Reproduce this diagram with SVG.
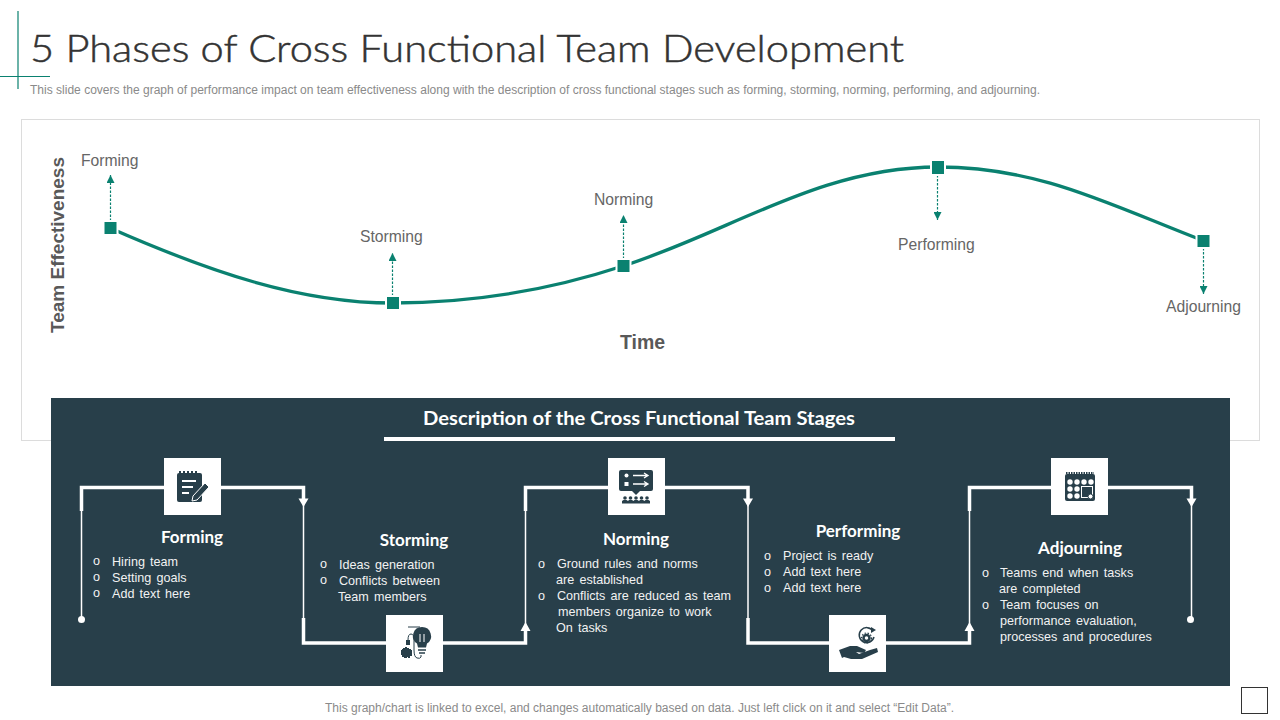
<svg xmlns="http://www.w3.org/2000/svg" width="1280" height="720" viewBox="0 0 1280 720">
<style>
text{font-family:"Liberation Sans",Arial,sans-serif}
.lab{font-size:15.700px;fill:#666}
.axis{font-weight:700;fill:#595959}
.head{font-family:Lato,"Liberation Sans",sans-serif;font-weight:700;fill:#fff;font-size:17px;text-anchor:middle}
.body{font-size:12.600px;fill:#f2f2f2;word-spacing:1.700px}
.thick{fill:none;stroke:#fff;stroke-width:3.500}
.thin{fill:none;stroke:#fff;stroke-width:1.500}
.dash{stroke:#0a8170;stroke-width:1.200;stroke-dasharray:2.500 1.500;fill:none}
.ic{fill:#283f4a}
.icl{fill:none;stroke:#283f4a}
.pt{fill:#0a8170;stroke:#fff;stroke-width:2}
</style>
<defs>
<marker id="ah" viewBox="0 0 8 8" refX="8" refY="4" markerWidth="8" markerHeight="8" markerUnits="userSpaceOnUse" orient="auto"><path d="M0 0L8 4L0 8Z" fill="#0a8170"/></marker>
</defs>
<rect width="1280" height="720" fill="#fff"/>
<g id="title">
<path d="M18 11V89M0 76.500H50" stroke="#0a8170" stroke-width="1.200" fill="none"/>
<text x="30" y="62" font-size="38" fill="#333" stroke="#333" stroke-width="0.500" style="font-family:Lato,'Open Sans',sans-serif;font-weight:300" textLength="874" lengthAdjust="spacingAndGlyphs">5 Phases of Cross Functional Team Development</text>
<text x="30" y="94" font-size="12" fill="#8a8a8a" textLength="1010" lengthAdjust="spacingAndGlyphs">This slide covers the graph of performance impact on team effectiveness along with the description of cross functional stages such as forming, storming, norming, performing, and adjourning.</text>
</g>
<rect id="chart-card" x="21.500" y="119.500" width="1238" height="321" fill="#fff" stroke="#dcdcdc" stroke-width="1"/>
<g id="chart-axes">
<text class="axis" font-size="18.500" transform="translate(64,333) rotate(-90)" textLength="176" lengthAdjust="spacingAndGlyphs">Team Effectiveness</text>
<text class="axis" x="620" y="349" font-size="19.500">Time</text>
</g>
<g id="chart-connectors">
<path d="M110 228C210 272 300 303 393 303C470 303 550 290 623 266C730 232 820 167 938 167C1040 167 1110 205 1204 241" fill="none" stroke="#0a8170" stroke-width="3.300"/>
<path class="dash" d="M110.500 221V175" marker-end="url(#ah)"/>
<path class="dash" d="M392.500 296V253" marker-end="url(#ah)"/>
<path class="dash" d="M623.500 259V215" marker-end="url(#ah)"/>
<path class="dash" d="M937.500 175V220" marker-end="url(#ah)"/>
<path class="dash" d="M1203.500 248V294" marker-end="url(#ah)"/>
</g>
<g id="point-forming"><rect class="pt" x="103.500" y="221" width="14" height="14"/><text class="lab" x="81" y="166">Forming</text></g>
<g id="point-storming"><rect class="pt" x="386" y="296" width="14" height="14"/><text class="lab" x="360" y="242">Storming</text></g>
<g id="point-norming"><rect class="pt" x="616.500" y="259" width="14" height="14"/><text class="lab" x="594" y="205">Norming</text></g>
<g id="point-performing"><rect class="pt" x="931" y="160" width="14" height="15"/><text class="lab" x="898" y="250">Performing</text></g>
<g id="point-adjourning"><rect class="pt" x="1196.500" y="234" width="14" height="14"/><text class="lab" x="1166" y="312">Adjourning</text></g>

<g id="panel">
<rect x="51" y="398" width="1179" height="288" fill="#283f4a"/>
<text x="639" y="425" font-size="18.500" style="font-family:Lato,'Liberation Sans',sans-serif;font-weight:700" fill="#fff" text-anchor="middle" textLength="432" lengthAdjust="spacingAndGlyphs">Description of the Cross Functional Team Stages</text>
<rect x="384" y="437" width="511" height="4" fill="#fff"/>
</g>
<g id="connectors">
<path class="thin" d="M81.500 619V510"/>
<path class="thick" d="M81.500 511V487.500H303.500V500"/>
<path class="thin" d="M303.500 500V618"/>
<path class="thick" d="M303.500 618V643H525.500V630"/>
<path class="thin" d="M525.500 630V510"/>
<path class="thick" d="M525.500 511V487.500H748V500"/>
<path class="thin" d="M748 500V618"/>
<path class="thick" d="M748 618V643H969.500V630"/>
<path class="thin" d="M969.500 630V510"/>
<path class="thick" d="M969.500 511V487.500H1191.500V500"/>
<path class="thin" d="M1191.500 500V619"/>
<circle cx="81.500" cy="619.500" r="3.500" fill="#fff"/>
<circle cx="1190.500" cy="619.500" r="3.500" fill="#fff"/>
<path d="M298.500 498.500H308.500L303.500 507Z M743 498.500H753L748 507Z M1186.500 498.500H1196.500L1191.500 507Z M520.500 631H530.500L525.500 622Z M964.500 631H974.500L969.500 622Z" fill="#fff"/>
</g>

<g id="node-forming">
<rect x="164" y="458" width="57" height="57" fill="#fff"/>
<rect class="ic" x="177" y="473" width="25" height="29" rx="2"/>
<path d="M180 471v4M184 471v4M188 471v4M192 471v4M196 471v4" stroke="#283f4a" stroke-width="2"/>
<path d="M182 481H196M182 487H193M182 493H189" stroke="#fff" stroke-width="2" fill="none"/>
<path d="M193 496L205 483L209 487L197 500L192 501Z" fill="#283f4a" stroke="#fff" stroke-width="1"/>
<text class="head" x="192" y="543">Forming</text>
<text class="body" x="93" y="565">o</text><text class="body" x="112" y="566">Hiring team</text>
<text class="body" x="93" y="581">o</text><text class="body" x="112" y="582">Setting goals</text>
<text class="body" x="93" y="597">o</text><text class="body" x="112" y="598">Add text here</text>
</g>
<g id="node-storming">
<rect x="386" y="615" width="57" height="57" fill="#fff"/>
<path class="ic" d="M422 627a9 9 0 0 1 5 16.500l-1 4h-8l-1-4a9 9 0 0 1 5-16.500Z"/>
<path d="M420 634v8M424 634v8" stroke="#fff" stroke-width="1"/>
<path d="M418 650H426M419 653H425" stroke="#283f4a" stroke-width="1.500"/>
<path class="icl" d="M421 655V657Q420 659 417 658Q414 657 414 650V640Q414 634 411 634Q408 634 408 640" stroke-width="1"/>
<rect class="ic" x="406" y="640" width="4" height="5"/>
<path d="M408 627H420" stroke="#283f4a" stroke-width="1"/>
<path class="ic" d="M403 648h2v-1h2v1h2v1h2v1h1v6h-2v2h-2v-1h-1v1h-3v-1h-2v-2h-1v-5h1v-1h1Z"/>
<text class="head" x="414" y="546">Storming</text>
<text class="body" x="320" y="568">o</text><text class="body" x="339" y="569">Ideas generation</text>
<text class="body" x="320" y="584">o</text><text class="body" x="339" y="585">Conflicts between</text>
<text class="body" x="338" y="601">Team members</text>
</g>
<g id="node-norming">
<rect x="608" y="458" width="57" height="57" fill="#fff"/>
<rect class="ic" x="619" y="470" width="34" height="21" rx="2"/>
<path class="ic" d="M632 491H640L636 495Z"/>
<circle cx="626.500" cy="475.500" r="2" fill="#fff"/><rect x="624.500" y="482" width="4" height="4" fill="#fff"/>
<path d="M633 475.500H647M633 484H647M644 473L648 475.500L644 478M644 481.500L648 484L644 486.500" stroke="#fff" stroke-width="1.300" fill="none"/>
<g class="ic"><circle cx="625" cy="498" r="1.800"/><circle cx="630.500" cy="498" r="1.800"/><circle cx="636" cy="498" r="1.800"/><circle cx="641.500" cy="498" r="1.800"/><circle cx="647" cy="498" r="1.800"/><path d="M622 503.500v-2.500l1.500-1h3l1.500 1 1-1h3l1.500 1 1-1h3l1.500 1 1-1h3l1.500 1 1-1h3l1.500 1v2.500Z"/></g>
<text class="head" x="636" y="545">Norming</text>
<text class="body" x="538" y="568">o</text><text class="body" x="557" y="568">Ground rules and norms</text>
<text class="body" x="556" y="584">are established</text>
<text class="body" x="538" y="600">o</text><text class="body" x="557" y="600">Conflicts are reduced as team</text>
<text class="body" x="558" y="616">members organize to work</text>
<text class="body" x="556" y="632">On tasks</text>
</g>
<g id="node-performing">
<rect x="829" y="615" width="57" height="57" fill="#fff"/>
<path class="icl" d="M873 631A7.500 7.500 0 1 0 874 637" stroke-width="1.500"/>
<path class="ic" d="M871 627L876 630L871 633Z"/>
<circle cx="866.500" cy="638" r="3" fill="none" stroke="#283f4a" stroke-width="2.500"/>
<circle cx="866.500" cy="638" r="5" fill="none" stroke="#283f4a" stroke-width="1.200" stroke-dasharray="1.500 1.500"/>
<path class="ic" d="M839 650L850 646H857L866 650L864 653L856 652L859 654L870 650L877 648L878 652L862 659H851L844 657L842 658Z"/>
<text class="head" x="858" y="537">Performing</text>
<text class="body" x="764" y="560">o</text><text class="body" x="783" y="560">Project is ready</text>
<text class="body" x="764" y="576">o</text><text class="body" x="783" y="576">Add text here</text>
<text class="body" x="764" y="592">o</text><text class="body" x="783" y="592">Add text here</text>
</g>
<g id="node-adjourning">
<rect x="1051" y="458" width="57" height="57" fill="#fff"/>
<rect class="ic" x="1065" y="474" width="30" height="27" rx="2"/>
<path d="M1066 473H1094" stroke="#283f4a" stroke-width="2" stroke-dasharray="1.500 1"/>
<g fill="#fff"><circle cx="1070" cy="482" r="2.700"/><circle cx="1077" cy="482" r="2.700"/><circle cx="1084" cy="482" r="2.700"/><circle cx="1091" cy="482" r="2.700"/><circle cx="1070" cy="489" r="2.700"/><circle cx="1077" cy="489" r="2.700"/><circle cx="1070" cy="496" r="2.700"/><circle cx="1077" cy="496" r="2.700"/></g>
<rect x="1081.500" y="486.500" width="11" height="11" fill="#283f4a" stroke="#fff" stroke-width="1"/>
<circle cx="1090.500" cy="496.500" r="2.500" fill="#fff" stroke="#283f4a"/>
<text class="head" x="1080" y="554">Adjourning</text>
<text class="body" x="982" y="577">o</text><text class="body" x="1000" y="577">Teams end when tasks</text>
<text class="body" x="999" y="593">are completed</text>
<text class="body" x="982" y="609">o</text><text class="body" x="1000" y="609">Team focuses on</text>
<text class="body" x="1000" y="625">performance evaluation,</text>
<text class="body" x="1000" y="641">processes and procedures</text>
</g>
<g id="footer">
<text x="325" y="712" font-size="12" fill="#8a8a8a" textLength="629" lengthAdjust="spacingAndGlyphs">This graph/chart is linked to excel, and changes automatically based on data. Just left click on it and select “Edit Data”.</text>
<rect x="1241.500" y="687.500" width="26" height="26" fill="none" stroke="#333" stroke-width="1"/>
</g>
</svg>
